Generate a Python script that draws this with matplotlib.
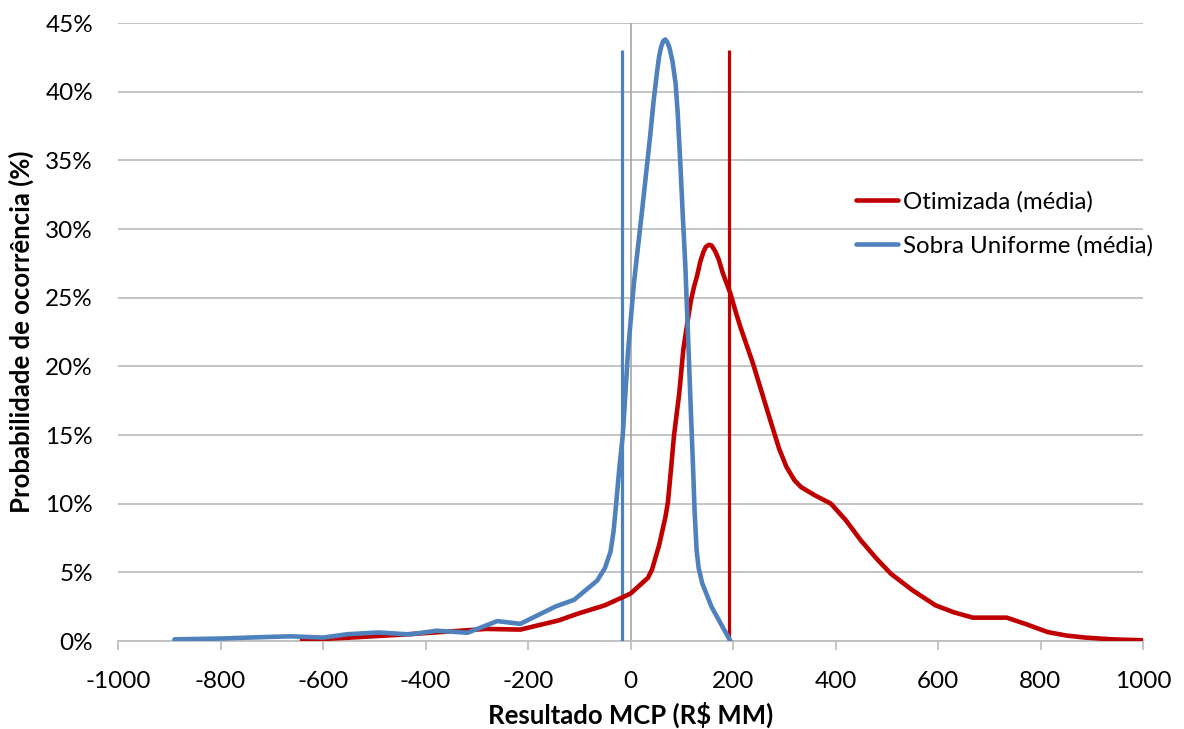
import numpy as np
import matplotlib
matplotlib.use("Agg")
import matplotlib.pyplot as plt
from matplotlib.ticker import FuncFormatter, MultipleLocator

# =========================================
# DATA
# =========================================
uniforme_x = [-890, -800, -720, -663, -600, -551, -491, -431, -378, -318,
              -260, -215, -147, -110, -65, -50, -39, -33, -28, -22,
              -15, -5, 6.5, 22.8, 39, 45, 52, 56, 60, 64,
              68, 72, 76, 82, 88, 92, 97.6, 102, 107, 114,
              118, 122, 125, 129, 133, 140, 158, 180, 195]
uniforme_y = [0.12, 0.18, 0.28, 0.34, 0.25, 0.5, 0.62, 0.48, 0.75, 0.6,
              1.45, 1.25, 2.5, 3.0, 4.4, 5.3, 6.5, 8.0, 10.0, 12.5,
              15.0, 21.0, 26.0, 31.4, 37.0, 39.3, 41.5, 42.6, 43.3, 43.7,
              43.8, 43.6, 43.2, 42.2, 40.6, 38.5, 34.5, 31.0, 27.3, 20.5,
              16.5, 12.7, 9.5, 6.6, 5.3, 4.2, 2.5, 1.0, 0.0]

otimizada_x = [-641, -551, -439, -327, -282, -215, -140, -102, -50, 0,
               34, 42, 49, 56, 62, 68, 73, 79, 85, 95,
               103, 111, 118, 124, 130, 136, 142, 147, 153, 158,
               165, 172, 180, 187, 195, 205, 215, 239, 257, 275,
               290, 304, 320, 333, 360, 391, 420, 450, 480, 508,
               550, 595, 630, 668, 700, 734, 770, 814, 850, 887,
               940, 1000]
otimizada_y = [0.07, 0.24, 0.48, 0.76, 0.88, 0.83, 1.5, 2.0, 2.6, 3.45,
               4.6, 5.2, 6.1, 7.0, 8.0, 9.0, 10.1, 12.5, 15.0, 18.0,
               21.2, 23.2, 24.8, 25.8, 26.6, 27.6, 28.3, 28.7, 28.85, 28.8,
               28.4, 27.8, 26.8, 26.1, 25.3, 24.0, 22.8, 20.2, 18.0, 15.8,
               14.0, 12.7, 11.7, 11.2, 10.6, 10.0, 8.8, 7.3, 6.0, 4.9,
               3.7, 2.6, 2.1, 1.7, 1.7, 1.7, 1.25, 0.65, 0.4, 0.25,
               0.12, 0.05]

# mean markers (vertical lines)
media_otimizada = 192
media_uniforme = -17
media_altura = 43

labels = ["Otimizada (média)", "Sobra Uniforme (média)"]
x_label = r"Resultado MCP (R\$ MM)"
y_label = "Probabilidade de ocorrência (%)"

RED = "#C00000"
BLUE = "#4F81BD"
GRID = "#BFBFBF"

# =========================================
# PLOT
# =========================================
plt.rcParams["font.family"] = ["Lato", "DejaVu Sans"]
plt.rcParams["axes.unicode_minus"] = False

fig = plt.figure(figsize=(11.84, 7.29), dpi=100)
ax = fig.add_axes([118 / 1184, 1 - 641 / 729, (1143 - 118) / 1184, (641 - 23) / 729])

ax.set_xlim(-1000, 1000)
ax.set_ylim(0, 45)

ax.yaxis.set_major_locator(MultipleLocator(5))
ax.xaxis.set_major_locator(MultipleLocator(200))
ax.yaxis.set_major_formatter(FuncFormatter(lambda v, p: f"{v:.0f}%"))
ax.xaxis.set_major_formatter(FuncFormatter(lambda v, p: f"{v:.0f}"))
ax.grid(axis="y", color=GRID, lw=1.3)
ax.set_axisbelow(True)

for s in ["top", "right", "left"]:
    ax.spines[s].set_visible(False)
ax.spines["bottom"].set_color(GRID)
ax.spines["bottom"].set_linewidth(1.3)

ax.tick_params(axis="x", direction="out", length=6.5, width=1.3, color=GRID,
               labelsize=17.5, pad=15)
ax.tick_params(axis="y", length=0, labelsize=17.5, pad=18)

# vertical axis at x = 0
ax.axvline(0, color="#A6A6A6", lw=1.2, zorder=1)

# mean lines
ax.plot([media_uniforme, media_uniforme], [0, media_altura], color=BLUE,
        lw=2.3, solid_capstyle="butt", zorder=3)
ax.plot([media_otimizada, media_otimizada], [0, media_altura], color=RED,
        lw=2.3, solid_capstyle="butt", zorder=3)

ax.plot(otimizada_x, otimizada_y, color=RED, lw=3.3, label=labels[0],
        solid_joinstyle="round", solid_capstyle="round", zorder=4)
ax.plot(uniforme_x, uniforme_y, color=BLUE, lw=3.3, label=labels[1],
        solid_joinstyle="round", solid_capstyle="round", zorder=5)

ax.set_xlabel(x_label, fontsize=18.5, fontweight="bold", labelpad=7)
ax.set_ylabel(y_label, fontsize=18.5, fontweight="bold", labelpad=8)

ax.legend(loc="upper left", bbox_to_anchor=(856 / 1184, 1 - 191 / 729),
          bbox_transform=fig.transFigure, frameon=False, fontsize=17.3,
          handlelength=1.75, handletextpad=0.2, labelspacing=0.95,
          borderpad=0, borderaxespad=0)

fig.savefig("out.png", dpi=100)
